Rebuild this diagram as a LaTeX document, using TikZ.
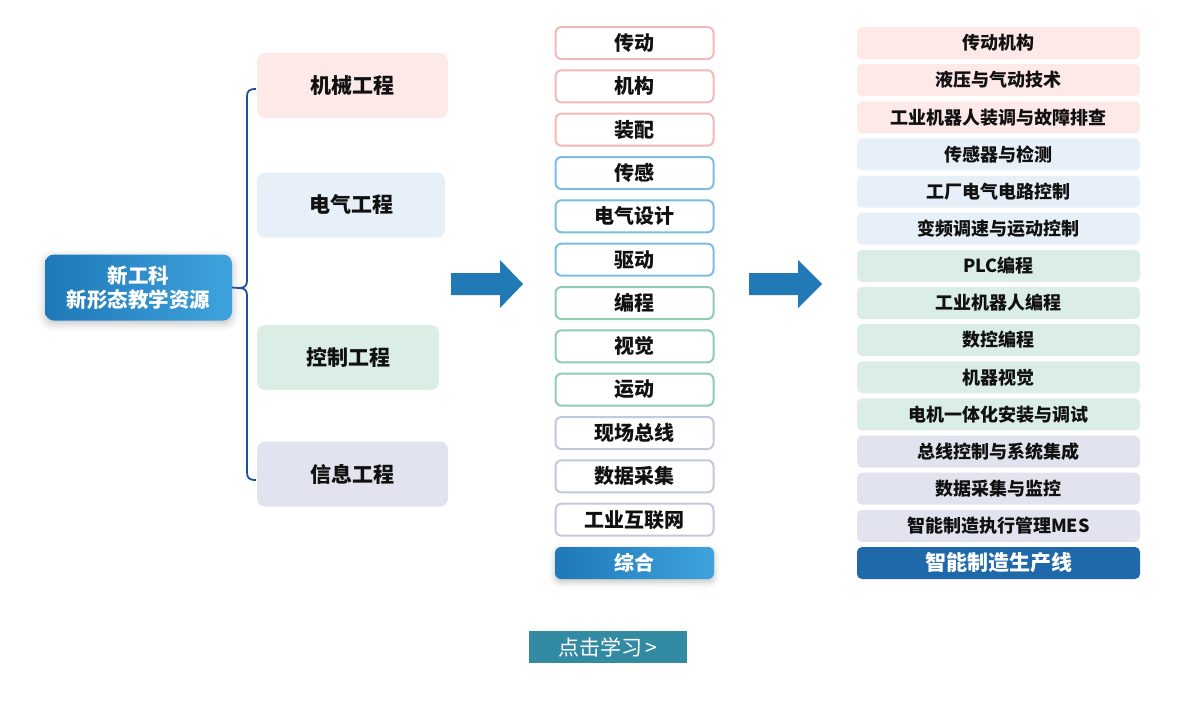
\documentclass[tikz,border=0pt]{standalone}
\usepackage{fontspec}
\newfontfamily\cjk{Noto Sans CJK SC}
\usetikzlibrary{shadows.blur}
\definecolor{pinkB}{HTML}{F2B9B9}
\definecolor{pinkF}{HTML}{FDE9E8}
\definecolor{blueB}{HTML}{7DBDE2}
\definecolor{blueF}{HTML}{E7EFF8}
\definecolor{greenB}{HTML}{8ECDB0}
\definecolor{greenF}{HTML}{DAEEE5}
\definecolor{greyB}{HTML}{C3C9DD}
\definecolor{greyF}{HTML}{E1E4EE}
\definecolor{arrowC}{HTML}{2179B5}
\definecolor{gradL}{HTML}{1F78B8}
\definecolor{gradR}{HTML}{3EA3DD}
\definecolor{darkB}{HTML}{1F69AA}
\definecolor{btnC}{HTML}{338AA3}
\definecolor{braceC}{HTML}{1F4E9A}
\definecolor{txt}{HTML}{111111}
\tikzset{
  cat/.style={rounded corners=8pt, minimum width=191pt, minimum height=65pt, inner sep=0pt,
    font=\cjk\bfseries\fontsize{21}{24}\selectfont, text=txt},
  mid/.style={draw=#1, line width=2pt, fill=white, rounded corners=6pt, minimum width=158pt,
    minimum height=32pt, inner sep=0pt, font=\cjk\bfseries\fontsize{20}{22}\selectfont, text=txt},
  rgt/.style={fill=#1, rounded corners=5pt, minimum width=283pt, minimum height=32pt, inner sep=0pt,
    font=\cjk\bfseries\fontsize{18}{20}\selectfont, text=txt},
  bigarrow/.style={fill=arrowC},
  brace/.style={draw=braceC, line width=1.8pt}
}
\begin{document}
\begin{tikzpicture}[x=1pt,y=-1pt]
\useasboundingbox (0,0) rectangle (1200,721);
% root
\node[rounded corners=9pt, minimum width=187pt, minimum height=66pt, inner sep=0pt,
  left color=gradL, right color=gradR, blur shadow={shadow xshift=0pt, shadow yshift=-3pt, shadow blur radius=8pt, shadow opacity=25},
  text=white, align=center, font=\cjk\bfseries\fontsize{20.5}{24}\selectfont] (root) at (138.5,287.5) {新工科\\新形态教学资源};
% categories
\node[cat, fill=pinkF, minimum width=191pt] (c1) at (352.5,85.5) {机械工程};
\node[cat, fill=blueF, minimum width=188pt] (c2) at (351,205) {电气工程};
\node[cat, fill=greenF, minimum width=182pt] (c3) at (348,357.5) {控制工程};
\node[cat, fill=greyF, minimum width=191pt] (c4) at (352.5,474) {信息工程};
% brace
\coordinate (bt) at (256,89);
\coordinate (bb) at (256,480);
\coordinate (bm) at (239,288);
\draw[brace] (bt) .. controls (249,89) and (247,91) .. (247,97) -- (247,281)
  .. controls (247,286) and (244,288) .. (bm) -- (root.east);
\draw[brace] (bm) .. controls (244,288) and (247,290) .. (247,295) -- (247,472)
  .. controls (247,478) and (249,480) .. (bb);
% arrows
\fill[bigarrow] (451,273) -- (500,273) -- (500,260) -- (523,284) -- (500,308) -- (500,295) -- (451,295) -- cycle;
\fill[bigarrow] (749,273) -- (798,273) -- (798,260) -- (822,284) -- (798,308) -- (798,295) -- (749,295) -- cycle;
% middle column
\def\mx{634.5}
\node[mid=pinkB] (m1) at (\mx,43) {传动};
\node[mid=pinkB] (m2) at (\mx,86.3) {机构};
\node[mid=pinkB] (m3) at (\mx,129.7) {装配};
\node[mid=blueB] (m4) at (\mx,173) {传感};
\node[mid=blueB] (m5) at (\mx,216.3) {电气设计};
\node[mid=blueB] (m6) at (\mx,259.7) {驱动};
\node[mid=greenB] (m7) at (\mx,303) {编程};
\node[mid=greenB] (m8) at (\mx,346.3) {视觉};
\node[mid=greenB] (m9) at (\mx,389.7) {运动};
\node[mid=greyB] (m10) at (\mx,433) {现场总线};
\node[mid=greyB] (m11) at (\mx,476.3) {数据采集};
\node[mid=greyB] (m12) at (\mx,519.7) {工业互联网};
\node[rounded corners=6pt, minimum width=159pt, minimum height=32pt, inner sep=0pt,
  left color=gradL, right color=gradR, text=white,
  blur shadow={shadow xshift=0pt, shadow yshift=-3pt, shadow blur radius=6pt, shadow opacity=25},
  font=\cjk\bfseries\fontsize{20}{22}\selectfont] (m13) at (\mx,563) {综合};
% right column
\def\rx{998.5}
\node[rgt=pinkF] (r1) at (\rx,43) {传动机构};
\node[rgt=pinkF] (r2) at (\rx,80.1) {液压与气动技术};
\node[rgt=pinkF] (r3) at (\rx,117.3) {工业机器人装调与故障排查};
\node[rgt=blueF] (r4) at (\rx,154.4) {传感器与检测};
\node[rgt=blueF] (r5) at (\rx,191.6) {工厂电气电路控制};
\node[rgt=blueF] (r6) at (\rx,228.7) {变频调速与运动控制};
\node[rgt=greenF] (r7) at (\rx,265.9) {PLC编程};
\node[rgt=greenF] (r8) at (\rx,303) {工业机器人编程};
\node[rgt=greenF] (r9) at (\rx,340.1) {数控编程};
\node[rgt=greenF] (r10) at (\rx,377.3) {机器视觉};
\node[rgt=greenF] (r11) at (\rx,414.4) {电机一体化安装与调试};
\node[rgt=greyF] (r12) at (\rx,451.6) {总线控制与系统集成};
\node[rgt=greyF] (r13) at (\rx,488.7) {数据采集与监控};
\node[rgt=greyF] (r14) at (\rx,525.9) {智能制造执行管理MES};
\node[rgt=darkB, text=white, font=\cjk\bfseries\fontsize{21}{22}\selectfont] (r15) at (\rx,563) {智能制造生产线};
% button
\node[fill=btnC, minimum width=158pt, minimum height=32pt, inner sep=0pt, text=white,
  font=\cjk\fontsize{21}{22}\selectfont] (btn) at (608,647) {点击学习\,>};
\end{tikzpicture}
\end{document}
